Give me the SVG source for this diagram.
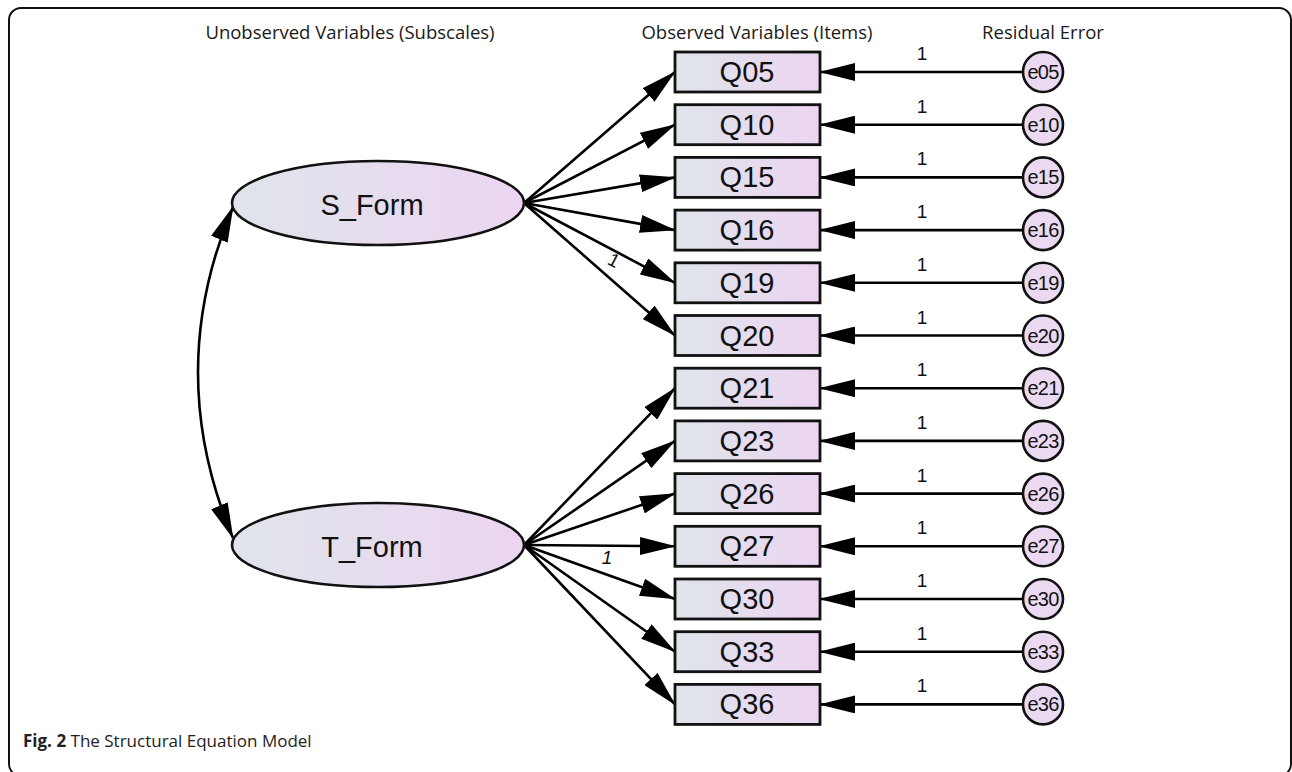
<svg xmlns="http://www.w3.org/2000/svg" width="1292" height="772" viewBox="0 0 1292 772">
<defs>
<linearGradient id="g" x1="0" y1="0" x2="1" y2="0">
<stop offset="0" stop-color="#dfe4ea"/>
<stop offset="1" stop-color="#ecd5f1"/>
</linearGradient>
<marker id="ah" markerUnits="userSpaceOnUse" markerWidth="36" markerHeight="18" refX="35" refY="9" orient="auto-start-reverse" viewBox="0 0 36 18">
<path d="M0,0 L36,9 L0,18 z" fill="#000"/>
</marker>
<style>
.box{fill:url(#g);stroke:#111;stroke-width:2.8}
.lat{fill:url(#g);stroke:#111;stroke-width:2.6}
.err{fill:#ead9f1;stroke:#111;stroke-width:2.6}
.c{fill:none;stroke:#000;stroke-width:2.6;marker-end:url(#ah)}
.hd{font-family:"Open Sans","Liberation Sans",sans-serif;font-size:18.5px;fill:#1a1a1a;text-anchor:middle}
.bt{font-family:"Liberation Sans",Arial,sans-serif;font-size:29px;fill:#111;text-anchor:middle;dominant-baseline:central}
.lt{font-family:"Liberation Sans",Arial,sans-serif;font-size:29px;fill:#111;text-anchor:middle;dominant-baseline:central}
.et{font-family:"Liberation Sans",Arial,sans-serif;font-size:20px;fill:#111;text-anchor:middle;dominant-baseline:central;letter-spacing:-0.8px}
.one{font-family:"Liberation Sans",Arial,sans-serif;font-size:19px;fill:#111;text-anchor:middle}
</style>
</defs>
<rect x="9" y="8" width="1282" height="768" rx="12" fill="#fff" stroke="#111" stroke-width="2"/>
<text class="hd" x="350" y="39">Unobserved Variables (Subscales)</text>
<text class="hd" x="757" y="39">Observed Variables (Items)</text>
<text class="hd" x="1043" y="39">Residual Error</text>
<g id="connectors">
<path class="c" d="M233,207 Q163,372 233,538" style="marker-start:url(#ah)"/>
<line class="c" x1="524" y1="203" x2="675" y2="72"/>
<line class="c" x1="524" y1="203" x2="675" y2="124.7"/>
<line class="c" x1="524" y1="203" x2="675" y2="177.4"/>
<line class="c" x1="524" y1="203" x2="675" y2="230.1"/>
<line class="c" x1="524" y1="203" x2="675" y2="282.8"/>
<line class="c" x1="524" y1="203" x2="675" y2="335.5"/>
<line class="c" x1="524" y1="545" x2="675" y2="388.2"/>
<line class="c" x1="524" y1="545" x2="675" y2="440.9"/>
<line class="c" x1="524" y1="545" x2="675" y2="493.6"/>
<line class="c" x1="524" y1="545" x2="675" y2="546.3"/>
<line class="c" x1="524" y1="545" x2="675" y2="599"/>
<line class="c" x1="524" y1="545" x2="675" y2="651.7"/>
<line class="c" x1="524" y1="545" x2="675" y2="704.4"/>
<line class="c" x1="1023" y1="72" x2="820" y2="72"/>
<line class="c" x1="1023" y1="124.7" x2="820" y2="124.7"/>
<line class="c" x1="1023" y1="177.4" x2="820" y2="177.4"/>
<line class="c" x1="1023" y1="230.1" x2="820" y2="230.1"/>
<line class="c" x1="1023" y1="282.8" x2="820" y2="282.8"/>
<line class="c" x1="1023" y1="335.5" x2="820" y2="335.5"/>
<line class="c" x1="1023" y1="388.2" x2="820" y2="388.2"/>
<line class="c" x1="1023" y1="440.9" x2="820" y2="440.9"/>
<line class="c" x1="1023" y1="493.6" x2="820" y2="493.6"/>
<line class="c" x1="1023" y1="546.3" x2="820" y2="546.3"/>
<line class="c" x1="1023" y1="599" x2="820" y2="599"/>
<line class="c" x1="1023" y1="651.7" x2="820" y2="651.7"/>
<line class="c" x1="1023" y1="704.4" x2="820" y2="704.4"/>
<text class="one" transform="translate(611,266) rotate(27.6)">1</text>
<text class="one" x="607" y="564" font-style="italic">1</text>
<text class="one" x="922" y="60">1</text>
<text class="one" x="922" y="112.7">1</text>
<text class="one" x="922" y="165.4">1</text>
<text class="one" x="922" y="218.1">1</text>
<text class="one" x="922" y="270.8">1</text>
<text class="one" x="922" y="323.5">1</text>
<text class="one" x="922" y="376.2">1</text>
<text class="one" x="922" y="428.9">1</text>
<text class="one" x="922" y="481.6">1</text>
<text class="one" x="922" y="534.3">1</text>
<text class="one" x="922" y="587">1</text>
<text class="one" x="922" y="639.7">1</text>
<text class="one" x="922" y="692.4">1</text>
</g>
<g id="S_Form"><ellipse class="lat" cx="378" cy="203" rx="146" ry="42"/><text class="lt" x="372" y="205">S_Form</text></g>
<g id="T_Form"><ellipse class="lat" cx="378" cy="545" rx="146" ry="42"/><text class="lt" x="372" y="547">T_Form</text></g>
<g id="Q05"><rect class="box" x="675" y="52" width="145" height="40"/><text class="bt" x="747" y="72">Q05</text></g>
<g id="Q10"><rect class="box" x="675" y="104.7" width="145" height="40"/><text class="bt" x="747" y="124.7">Q10</text></g>
<g id="Q15"><rect class="box" x="675" y="157.4" width="145" height="40"/><text class="bt" x="747" y="177.4">Q15</text></g>
<g id="Q16"><rect class="box" x="675" y="210.1" width="145" height="40"/><text class="bt" x="747" y="230.1">Q16</text></g>
<g id="Q19"><rect class="box" x="675" y="262.8" width="145" height="40"/><text class="bt" x="747" y="282.8">Q19</text></g>
<g id="Q20"><rect class="box" x="675" y="315.5" width="145" height="40"/><text class="bt" x="747" y="335.5">Q20</text></g>
<g id="Q21"><rect class="box" x="675" y="368.2" width="145" height="40"/><text class="bt" x="747" y="388.2">Q21</text></g>
<g id="Q23"><rect class="box" x="675" y="420.9" width="145" height="40"/><text class="bt" x="747" y="440.9">Q23</text></g>
<g id="Q26"><rect class="box" x="675" y="473.6" width="145" height="40"/><text class="bt" x="747" y="493.6">Q26</text></g>
<g id="Q27"><rect class="box" x="675" y="526.3" width="145" height="40"/><text class="bt" x="747" y="546.3">Q27</text></g>
<g id="Q30"><rect class="box" x="675" y="579" width="145" height="40"/><text class="bt" x="747" y="599">Q30</text></g>
<g id="Q33"><rect class="box" x="675" y="631.7" width="145" height="40"/><text class="bt" x="747" y="651.7">Q33</text></g>
<g id="Q36"><rect class="box" x="675" y="684.4" width="145" height="40"/><text class="bt" x="747" y="704.4">Q36</text></g>
<g id="e05"><circle class="err" cx="1043" cy="72" r="20"/><text class="et" x="1043" y="72">e05</text></g>
<g id="e10"><circle class="err" cx="1043" cy="124.7" r="20"/><text class="et" x="1043" y="124.7">e10</text></g>
<g id="e15"><circle class="err" cx="1043" cy="177.4" r="20"/><text class="et" x="1043" y="177.4">e15</text></g>
<g id="e16"><circle class="err" cx="1043" cy="230.1" r="20"/><text class="et" x="1043" y="230.1">e16</text></g>
<g id="e19"><circle class="err" cx="1043" cy="282.8" r="20"/><text class="et" x="1043" y="282.8">e19</text></g>
<g id="e20"><circle class="err" cx="1043" cy="335.5" r="20"/><text class="et" x="1043" y="335.5">e20</text></g>
<g id="e21"><circle class="err" cx="1043" cy="388.2" r="20"/><text class="et" x="1043" y="388.2">e21</text></g>
<g id="e23"><circle class="err" cx="1043" cy="440.9" r="20"/><text class="et" x="1043" y="440.9">e23</text></g>
<g id="e26"><circle class="err" cx="1043" cy="493.6" r="20"/><text class="et" x="1043" y="493.6">e26</text></g>
<g id="e27"><circle class="err" cx="1043" cy="546.3" r="20"/><text class="et" x="1043" y="546.3">e27</text></g>
<g id="e30"><circle class="err" cx="1043" cy="599" r="20"/><text class="et" x="1043" y="599">e30</text></g>
<g id="e33"><circle class="err" cx="1043" cy="651.7" r="20"/><text class="et" x="1043" y="651.7">e33</text></g>
<g id="e36"><circle class="err" cx="1043" cy="704.4" r="20"/><text class="et" x="1043" y="704.4">e36</text></g>
<text x="23" y="747" font-family="'Open Sans','Liberation Sans',sans-serif" font-size="17" fill="#222"><tspan font-weight="bold">Fig. 2</tspan> The Structural Equation Model</text>
</svg>
